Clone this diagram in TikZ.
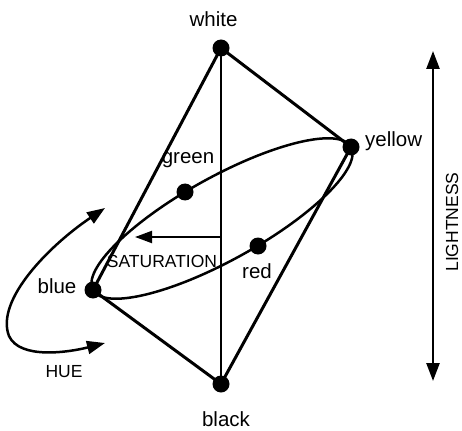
\documentclass[tikz,border=0pt]{standalone}
\usepackage{fontspec}
\setmainfont{Liberation Sans}
\usetikzlibrary{arrows.meta}
\begin{document}
\begin{tikzpicture}[x=1pt,y=-1pt,
  dot/.style={circle,fill=black,inner sep=0pt,minimum size=17pt},
  lbl/.style={font=\fontsize{20.5}{22}\selectfont,inner sep=0pt,anchor=base},
  caps/.style={font=\fontsize{17.5}{19}\selectfont,inner sep=0pt,anchor=base},
  edge/.style={line width=3pt},
  tip/.style={-{Triangle[length=17pt,width=12pt]}},
  dtip/.style={{Triangle[length=18pt,width=13pt]}-{Triangle[length=18pt,width=13pt]}}]
\useasboundingbox (0,0) rectangle (462,430);
% vertices
\coordinate (W) at (221,48);
\coordinate (Y) at (351,147);
\coordinate (G) at (185,192);
\coordinate (R) at (258,246);
\coordinate (B) at (93,290);
\coordinate (K) at (221,384);
\coordinate (C) at (222,218.5);
% axis
\draw[line width=2pt] (W) -- (K);
% saturation
\coordinate (S0) at (221,237);
\coordinate (S1) at (135,237);
\draw[line width=2pt,tip] (S0) -- (S1);
% edges
\draw[edge,line join=round] (B) -- (W) -- (Y) -- (K) -- (B);
% hue circle
\draw[line width=2.5pt,shift={(C)},rotate=29] (0,0) ellipse [x radius=147.5, y radius=41.5];
% dots
\node[dot] (w) at (W) {};
\node[dot] (y) at (Y) {};
\node[dot] (g) at (G) {};
\node[dot] (r) at (R) {};
\node[dot] (b) at (B) {};
\node[dot] (k) at (K) {};
% hue arrow
\coordinate (H0) at (105,208);
\coordinate (H1) at (105,343);
\draw[line width=2.5pt,dtip] (H0) .. controls (50,245) and (-5,300) .. (9,336) .. controls (20,360) and (70,352) .. (H1);
% lightness arrow
\coordinate (L0) at (433,51);
\coordinate (L1) at (433,381);
\draw[line width=2.5pt,dtip] (L0) -- (L1);
% labels
\node[lbl] (tw) at (213.5,27) {white};
\node[lbl,anchor=base west] (ty) at (365,147) {yellow};
\node[lbl] (tg) at (188,164) {green};
\node[lbl] (tr) at (257,278) {red};
\node[lbl] (tb) at (57,293) {blue};
\node[lbl] (tk) at (226,426) {black};
\node[caps] (ts) at (162,267) {SATURATION};
\node[caps] (th) at (64,377) {HUE};
\node[caps,rotate=90,anchor=center] (tl) at (452,222) {LIGHTNESS};
\end{tikzpicture}
\end{document}
